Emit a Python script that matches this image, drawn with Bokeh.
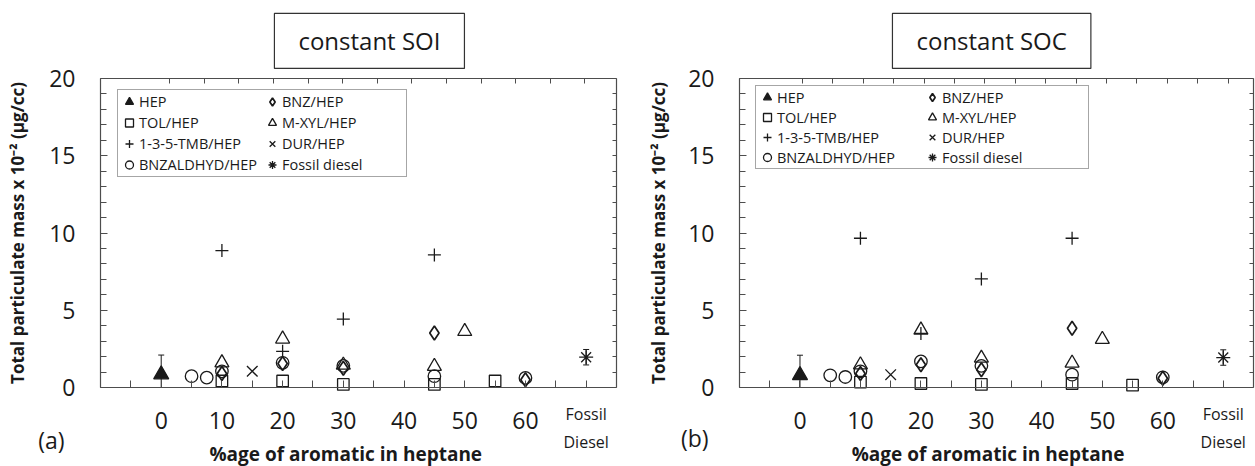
import numpy as np
from bokeh.plotting import figure
from bokeh.layouts import row
from bokeh.models import (Range1d, LinearAxis, FixedTicker, Legend, LegendItem,
                          Label, Whisker, TeeHead, ColumnDataSource)
from bokeh.embed import file_html
from bokeh.resources import INLINE

# ---------------- data ----------------
x_major_ticks = [0, 10, 20, 30, 40, 50, 60]
x_minor_ticks = [-5, 5, 15, 25, 35, 45, 55, 65, 70]
y_major_ticks = [0, 5, 10, 15, 20]
series_names = ["HEP", "TOL/HEP", "1-3-5-TMB/HEP", "BNZALDHYD/HEP",
                "BNZ/HEP", "M-XYL/HEP", "DUR/HEP", "Fossil diesel"]

# (a) constant SOI
soi_hep_x = [0];                    soi_hep_y = [0.84];  soi_hep_err = [1.26]
soi_tol_x = [10, 20, 30, 45, 55];   soi_tol_y = [0.42, 0.42, 0.2, 0.2, 0.42]
soi_tmb_x = [10, 20, 30, 45];       soi_tmb_y = [8.86, 2.34, 4.43, 8.58]
soi_bzl_x = [5, 7.5, 10, 20, 30, 45, 60]
soi_bzl_y = [0.73, 0.64, 1.05, 1.6, 1.4, 0.73, 0.62]
soi_bnz_x = [10, 20, 30, 45, 60];   soi_bnz_y = [0.9, 1.55, 1.25, 3.53, 0.5]
soi_mxy_x = [10, 20, 30, 45, 50];   soi_mxy_y = [1.6, 3.14, 1.45, 1.37, 3.63]
soi_dur_x = [15];                   soi_dur_y = [1.05]
soi_fos_x = [70];                   soi_fos_y = [1.96];  soi_fos_err = [0.5]

# (b) constant SOC
soc_hep_x = [0];                    soc_hep_y = [0.79];  soc_hep_err = [1.3]
soc_tol_x = [10, 20, 30, 45, 55];   soc_tol_y = [0.35, 0.26, 0.2, 0.26, 0.15]
soc_tmb_x = [10, 20, 30, 45];       soc_tmb_y = [9.66, 3.5, 7.03, 9.66]
soc_bzl_x = [5, 7.5, 10, 20, 30, 45, 60]
soc_bzl_y = [0.79, 0.68, 1.05, 1.69, 1.4, 0.83, 0.66]
soc_bnz_x = [10, 20, 30, 45, 60];   soc_bnz_y = [0.9, 1.47, 1.15, 3.83, 0.6]
soc_mxy_x = [10, 20, 30, 45, 50];   soc_mxy_y = [1.47, 3.72, 1.9, 1.58, 3.12]
soc_dur_x = [15];                   soc_dur_y = [0.83]
soc_fos_x = [70];                   soc_fos_y = [1.94];  soc_fos_err = [0.5]

FONT = "Open Sans"
INK = "#1a1a1a"
FRAME = "#4d4d4d"
H = 466
X0, X1, Y0, Y1 = -10, 75, 0, 20


def make_panel(d, W, box_l, box_r, box_t, box_b, top_ticks, lab_standoff,
               title, title_xy, tag, tag_xy, xlab_xy, legend_loc, legend_font, legend_lw,
               legend_gh):
    # plot box in figure pixels -> data ranges covering the whole figure
    sx = (box_r - box_l) / (X1 - X0)
    sy = (box_b - box_t) / (Y1 - Y0)
    xr = Range1d(X0 - box_l / sx, X0 + (W - box_l) / sx)
    yr = Range1d(Y0 - (H - box_b) / sy, Y1 + box_t / sy)
    p = figure(width=W, height=H, output_backend="svg", toolbar_location=None,
               x_range=xr, y_range=yr, x_axis_location=None, y_axis_location=None,
               min_border=0)
    p.grid.visible = False
    p.outline_line_color = None
    p.background_fill_color = "white"
    p.border_fill_color = "white"

    def style_line(ax):
        ax.axis_line_color = FRAME; ax.axis_line_width = 1.2
        ax.major_tick_line_color = FRAME; ax.minor_tick_line_color = FRAME
        ax.major_tick_out = 0; ax.minor_tick_out = 0

    xb = LinearAxis(ticker=FixedTicker(ticks=x_major_ticks, minor_ticks=x_minor_ticks),
                    fixed_location=Y0, bounds=(X0, X1))
    style_line(xb)
    xb.major_tick_in = 7; xb.minor_tick_in = 7
    xb.major_label_standoff = 24
    xb.major_label_text_font = FONT; xb.major_label_text_font_size = "23px"
    xb.major_label_text_color = INK
    p.add_layout(xb, "below")

    xt = LinearAxis(ticker=FixedTicker(ticks=[], minor_ticks=top_ticks),
                    fixed_location=Y1, bounds=(X0, X1))
    style_line(xt)
    xt.minor_tick_in = 5
    p.add_layout(xt, "above")

    yl = LinearAxis(ticker=FixedTicker(ticks=y_major_ticks, minor_ticks=list(range(0, 21))),
                    fixed_location=X0, bounds=(Y0, Y1),
                    axis_label="Total particulate mass x 10\u207b\u00b2 (\u03bcg/cc)")
    style_line(yl)
    yl.major_tick_in = 7; yl.minor_tick_in = 6
    yl.major_label_standoff = 25
    yl.axis_label_standoff = lab_standoff
    yl.major_label_text_font = FONT; yl.major_label_text_font_size = "23px"
    yl.major_label_text_color = INK
    yl.axis_label_text_font = FONT; yl.axis_label_text_font_size = "17px"
    yl.axis_label_text_font_style = "bold"; yl.axis_label_text_color = INK
    p.add_layout(yl, "left")

    yrr = LinearAxis(ticker=FixedTicker(ticks=[], minor_ticks=list(range(0, 21))),
                     fixed_location=X1, bounds=(Y0, Y1))
    style_line(yrr)
    yrr.minor_tick_in = 4
    p.add_layout(yrr, "right")

    lw = 1.3
    for ex, ey, ee in [(d["hep_x"], d["hep_y"], d["hep_err"]), (d["fos_x"], d["fos_y"], d["fos_err"])]:
        ey = np.array(ey); ee = np.array(ee)
        src = ColumnDataSource(dict(x=ex, up=ey + ee, lo=np.maximum(ey - ee, 0)))
        p.add_layout(Whisker(source=src, base="x", upper="up", lower="lo", dimension="height",
                             line_color=INK, line_width=1,
                             upper_head=TeeHead(size=6, line_color=INK, line_width=1),
                             lower_head=TeeHead(size=6, line_color=INK, line_width=1)))

    r = {}
    r["HEP"] = p.scatter(d["hep_x"], d["hep_y"], marker="triangle", size=15,
                         fill_color=INK, line_color=INK, line_width=lw)
    r["TOL/HEP"] = p.scatter(d["tol_x"], d["tol_y"], marker="square", size=11.5,
                             fill_color=None, line_color=INK, line_width=lw)
    r["1-3-5-TMB/HEP"] = p.scatter(d["tmb_x"], d["tmb_y"], marker="cross", size=13,
                                   line_color=INK, line_width=lw)
    r["BNZALDHYD/HEP"] = p.scatter(d["bzl_x"], d["bzl_y"], marker="circle", size=12.5,
                                   fill_color=None, line_color=INK, line_width=lw)
    r["BNZ/HEP"] = p.scatter(d["bnz_x"], d["bnz_y"], marker="diamond", size=14,
                             fill_color=None, line_color=INK, line_width=lw + 0.4)
    r["M-XYL/HEP"] = p.scatter(d["mxy_x"], d["mxy_y"], marker="triangle", size=14,
                               fill_color=None, line_color=INK, line_width=lw)
    r["DUR/HEP"] = p.scatter(d["dur_x"], d["dur_y"], marker="x", size=15,
                             line_color=INK, line_width=lw)
    r["Fossil diesel"] = p.scatter(d["fos_x"], d["fos_y"], marker="asterisk", size=14,
                                   line_color=INK, line_width=lw)

    legend = Legend(items=[LegendItem(label=n, renderers=[r[n]]) for n in series_names],
                    ncols=2, location=legend_loc,
                    label_text_font=FONT, label_text_font_size=legend_font,
                    label_text_color=INK, label_width=legend_lw, label_height=legend_gh,
                    glyph_width=20, glyph_height=legend_gh, label_standoff=0,
                    spacing=0, padding=1, margin=0,
                    border_line_color=FRAME, border_line_width=1,
                    background_fill_alpha=0)
    p.add_layout(legend, "center")

    p.add_layout(Label(x=title_xy[0], y=title_xy[1], text=title, text_align="center",
                       text_baseline="middle", text_font=FONT, text_font_size="24px",
                       text_color=INK, border_line_color="#333333", border_line_width=1.2,
                       background_fill_color="white", padding=(24, 11)))
    p.add_layout(Label(x=tag_xy[0], y=tag_xy[1], text=tag, text_align="center",
                       text_baseline="middle", text_font=FONT, text_font_size="23px",
                       text_color=INK))
    p.add_layout(Label(x=xlab_xy[0], y=xlab_xy[1], text="%age of aromatic in heptane",
                       text_align="center", text_baseline="middle", text_font=FONT,
                       text_font_size="19px", text_font_style="bold", text_color=INK))
    for txt, yy in [("Fossil", -1.72), ("Diesel", -3.5)]:
        p.add_layout(Label(x=70, y=yy, text=txt, text_align="center",
                           text_baseline="middle", text_font=FONT, text_font_size="16px",
                           text_color=INK))
    return p


def pack(prefix):
    g = globals()
    keys = ["hep_x", "hep_y", "hep_err", "tol_x", "tol_y", "tmb_x", "tmb_y", "bzl_x", "bzl_y",
            "bnz_x", "bnz_y", "mxy_x", "mxy_y", "dur_x", "dur_y", "fos_x", "fos_y", "fos_err"]
    return {k: g[prefix + k] for k in keys}


W1 = 628
W2 = 1255 - W1
p1 = make_panel(pack("soi_"), W1, 100, 616, 78, 387, list(np.arange(1.4, 75, 5.7)), 17,
                "constant SOI", (34.3, 22.43), "(a)", (-18.1, -3.43), (30.4, -4.3),
                (117, 289), "14.5px", 123, 21)
p2 = make_panel(pack("soc_"), W2, 739 - W1, 1253 - W1, 78, 387, list(np.arange(0.4, 75, 5.03)), 15,
                "constant SOC", (31.7, 22.43), "(b)", (-17.4, -3.3), (31.1, -4.3),
                (755 - W1, 297), "14.5px", 145, 20)

layout = row(p1, p2)
open("out.html", "w").write(file_html(layout, INLINE))
